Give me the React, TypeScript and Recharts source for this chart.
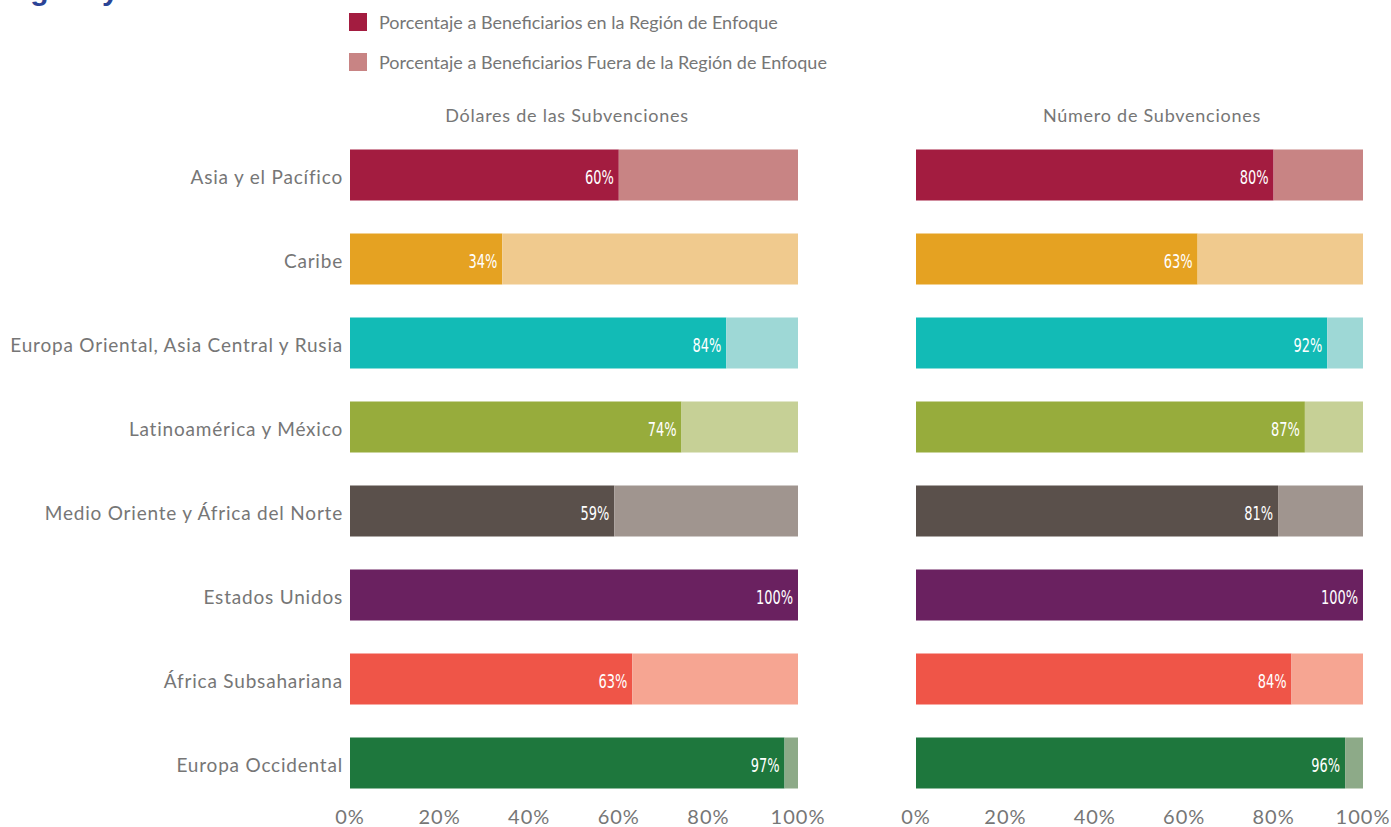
import { BarChart, Bar, XAxis, YAxis, Cell, LabelList } from 'recharts';

const regions = [
  'Asia y el Pacífico',
  'Caribe',
  'Europa Oriental, Asia Central y Rusia',
  'Latinoamérica y México',
  'Medio Oriente y África del Norte',
  'Estados Unidos',
  'África Subsahariana',
  'Europa Occidental',
];
const dollarsIn = [60, 34, 84, 74, 59, 100, 63, 97];
const grantsIn = [80, 63, 92, 87, 81, 100, 84, 96];
const darkColors = ['#A31C40', '#E5A222', '#12BBB6', '#97AC3C', '#5A504B', '#6A2160', '#EF5548', '#1E773D'];
const lightColors = ['#C88484', '#F0CA8E', '#9ED8D6', '#C6D096', '#A0958F', '#A595A0', '#F6A592', '#8DAA88'];
const xTicks = [0, 20, 40, 60, 80, 100];

const textFont = "'Lato', 'Noto Sans', sans-serif";
const labelFont = "'DejaVu Sans Condensed', 'Liberation Sans Narrow', sans-serif";
const gray = '#767676';

const build = (vals: number[]) =>
  regions.map((r, i) => ({ region: r, inside: vals[i], outside: 100 - vals[i] }));

// white % label at the inner end of the dark segment, squeezed horizontally
const InsideLabel = (props: any) => {
  const { x, y, width, height, value } = props;
  return (
    <text
      transform={`translate(${x + width - 5}, ${y + height / 2 + 3}) scale(0.74, 1)`}
      textAnchor="end"
      dominantBaseline="middle"
      fill="#ffffff"
      fontFamily={labelFont}
      fontSize={19.5}
    >
      {value}%
    </text>
  );
};

const Panel = ({ vals, showY, width, left, right }: any) => (
  <BarChart
    width={width}
    height={827}
    data={build(vals)}
    layout="vertical"
    barSize={51}
    margin={{ top: 132.5, left, right, bottom: 0 }}
  >
    <XAxis
      type="number"
      domain={[0, 100]}
      ticks={xTicks}
      tickFormatter={(v) => `${v}%`}
      axisLine={false}
      tickLine={false}
      tickSize={0}
      tickMargin={5}
      height={22.5}
      interval={0}
      tick={{ fill: gray, fontSize: 20, fontFamily: textFont, letterSpacing: 1 }}
    />
    <YAxis
      type="category"
      dataKey="region"
      hide={!showY}
      width={showY ? 350 : 0}
      axisLine={false}
      tickLine={false}
      tickSize={0}
      tickMargin={7}
      interval={0}
      tick={{ fill: gray, fontSize: 19, fontFamily: textFont, letterSpacing: 0.8, dy: 2.5 }}
    />
    <Bar dataKey="inside" stackId="a" isAnimationActive={false}>
      {regions.map((r, i) => (
        <Cell key={r} fill={darkColors[i]} />
      ))}
      <LabelList dataKey="inside" content={InsideLabel} />
    </Bar>
    <Bar dataKey="outside" stackId="a" isAnimationActive={false}>
      {regions.map((r, i) => (
        <Cell key={r} fill={lightColors[i]} />
      ))}
    </Bar>
  </BarChart>
);

const App = () => {
  return (
    <div style={{ position: 'absolute', left: 0, top: 0, width: 1391, height: 827, background: '#fff', overflow: 'hidden', fontFamily: textFont }}>
      <div style={{ position: 'absolute', left: -8, top: -27, fontFamily: "'Liberation Sans', Arial, sans-serif", fontWeight: 700, fontSize: 30, color: '#2B4496', whiteSpace: 'nowrap' }}>
        Región y Tema
      </div>
      {[0, 1].map((k) => (
        <div key={k} style={{ position: 'absolute', left: 349, top: 13 + k * 40, display: 'flex', alignItems: 'center' }}>
          <div style={{ width: 18, height: 18, background: k === 0 ? darkColors[0] : lightColors[0] }} />
          <span style={{ marginLeft: 12, fontSize: 18, color: gray, lineHeight: '18px' }}>
            {k === 0
              ? 'Porcentaje a Beneficiarios en la Región de Enfoque'
              : 'Porcentaje a Beneficiarios Fuera de la Región de Enfoque'}
          </span>
        </div>
      ))}
      <div style={{ position: 'absolute', left: 350, width: 434, top: 104, textAlign: 'center', fontSize: 18, color: gray, letterSpacing: 0.75 }}>
        Dólares de las Subvenciones
      </div>
      <div style={{ position: 'absolute', left: 916, width: 472, top: 104, textAlign: 'center', fontSize: 18, color: gray, letterSpacing: 0.75 }}>
        Número de Subvenciones
      </div>
      <div style={{ position: 'absolute', left: 0, top: 0 }}>
        <Panel vals={dollarsIn} showY width={840} left={0} right={42} />
      </div>
      <div style={{ position: 'absolute', left: 860, top: 0 }}>
        <Panel vals={grantsIn} showY={false} width={531} left={56} right={28} />
      </div>
    </div>
  );
};

export default App;
